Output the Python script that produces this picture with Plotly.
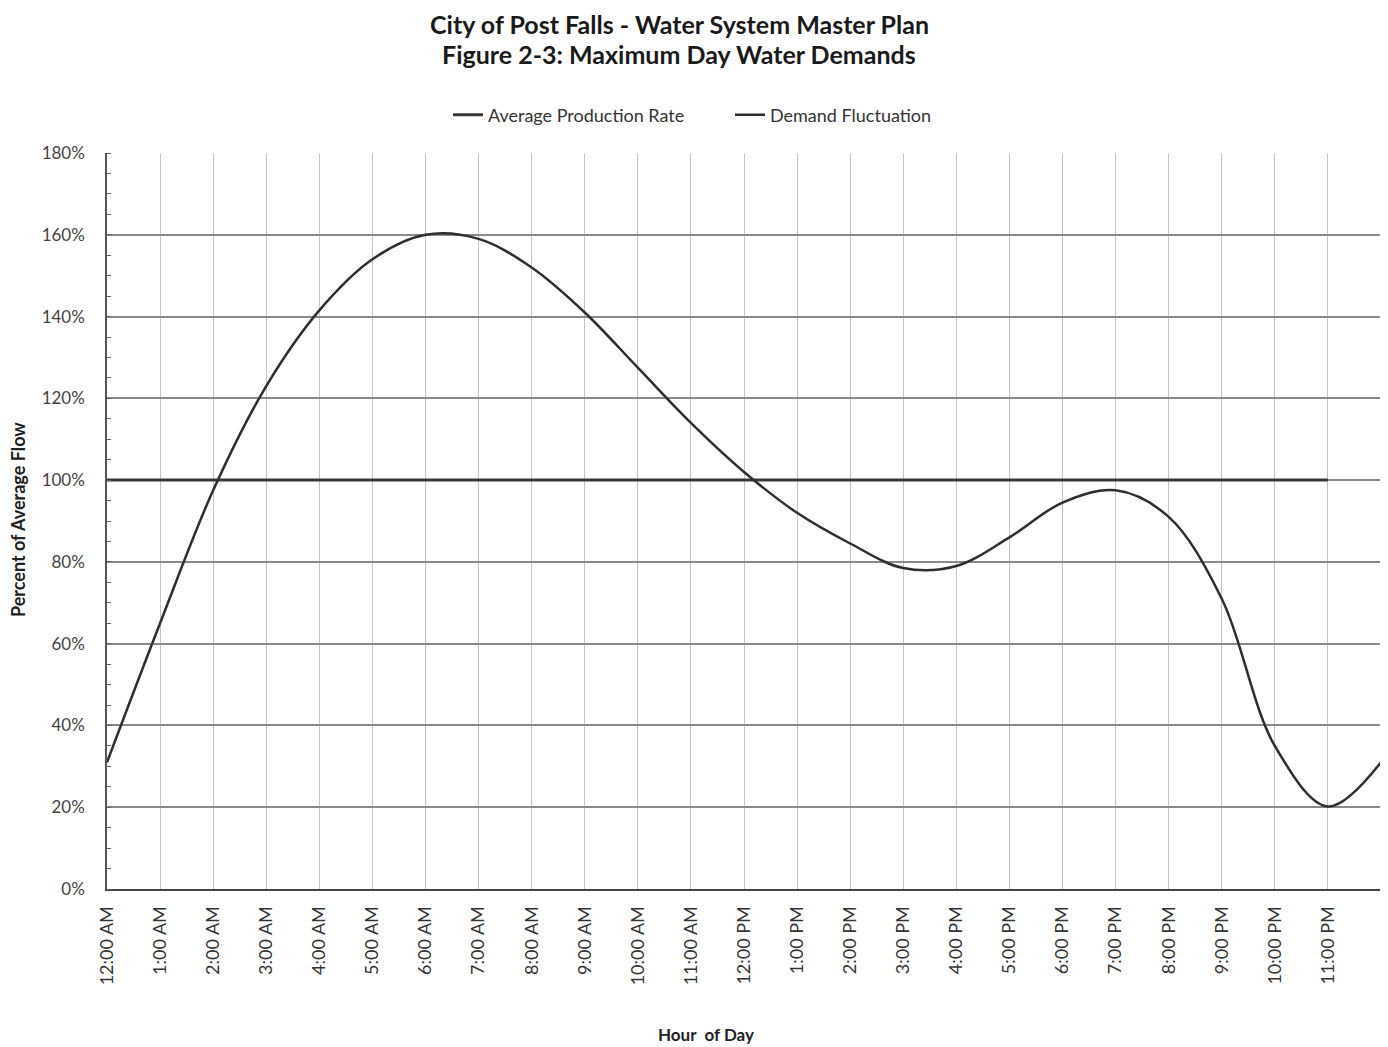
import plotly.graph_objects as go

hours = list(range(25))
tick_labels = ["12:00 AM", "1:00 AM", "2:00 AM", "3:00 AM", "4:00 AM", "5:00 AM",
               "6:00 AM", "7:00 AM", "8:00 AM", "9:00 AM", "10:00 AM", "11:00 AM",
               "12:00 PM", "1:00 PM", "2:00 PM", "3:00 PM", "4:00 PM", "5:00 PM",
               "6:00 PM", "7:00 PM", "8:00 PM", "9:00 PM", "10:00 PM", "11:00 PM"]
demand = [31, 65, 97.5, 123, 141.5, 154, 160, 159, 152, 141, 127.5, 114,
          102, 92, 84.5, 78.5, 79, 86, 94.5, 97.5, 91, 71, 35, 20.2, 31]
avg_hours = list(range(24))
avg_rate = [100] * 24
title_lines = ["City of Post Falls - Water System Master Plan",
               "Figure 2-3: Maximum Day Water Demands"]

FONT = "Lato, Carlito, sans-serif"
OFF = 8  # page body margin
W, H = 1380, 1039
L, R, T, B = 107 - OFF, 7, 153 - OFF, 158
PW, PH = W - L - R, H - T - B


def py(pix):
    return (H - B - (pix - OFF)) / PH


def px(pix):
    return ((pix - OFF) - L) / PW


fig = go.Figure()
fig.add_trace(go.Scatter(x=avg_hours, y=avg_rate, mode="lines", name="Average Production Rate",
                         line=dict(color="#383838", width=3)))
fig.add_trace(go.Scatter(x=hours, y=demand, mode="lines", name="Demand Fluctuation",
                         line=dict(color="#2e2e2e", width=2.5, shape="spline", smoothing=1)))

annotations = [
    dict(text=f"<b>{title_lines[0]}</b>", x=px(679), xref="paper", y=py(24), yref="paper",
         xanchor="center", yanchor="middle", showarrow=False,
         font=dict(size=25, color="#1a1a1a", family=FONT)),
    dict(text=f"<b>{title_lines[1]}</b>", x=px(679), xref="paper", y=py(54), yref="paper",
         xanchor="center", yanchor="middle", showarrow=False,
         font=dict(size=25, color="#1a1a1a", family=FONT)),
    dict(text="<b>Hour  of Day</b>", x=px(706), xref="paper", y=py(1034), yref="paper",
         xanchor="center", yanchor="middle", showarrow=False,
         font=dict(size=17, color="#222", family=FONT)),
    dict(text="<b>Percent of Average Flow</b>", x=px(18), xref="paper", y=py(520), yref="paper",
         xanchor="center", yanchor="middle", showarrow=False, textangle=-90,
         font=dict(size=18, color="#222", family=FONT)),
]

fig.update_layout(
    width=W, height=H,
    paper_bgcolor="white", plot_bgcolor="white",
    margin=dict(l=L, r=R, t=T, b=B, autoexpand=False),
    font=dict(family=FONT, color="#333"),
    legend=dict(orientation="h", x=px(448), xanchor="left", y=py(115), yanchor="middle",
                font=dict(size=18, color="#333"), entrywidth=237, entrywidthmode="pixels",
                bgcolor="rgba(0,0,0,0)"),
    showlegend=True,
    annotations=annotations,
)
fig.update_xaxes(
    range=[0, 24], tickmode="array", tickvals=list(range(24)), ticktext=tick_labels,
    tickangle=-90, tickfont=dict(size=18, color="#333"), automargin=False,
    showgrid=True, gridcolor="#c4c4c4", gridwidth=1,
    showline=True, linecolor="#444", linewidth=2, ticks="", zeroline=False,
    ticklabelstandoff=8,
)
fig.update_yaxes(
    range=[0, 180], tickmode="array", tickvals=list(range(0, 181, 20)),
    ticktext=[f"{v}%" for v in range(0, 181, 20)],
    tickfont=dict(size=17, color="#444"), automargin=False,
    showgrid=True, gridcolor="#8a8a8a", gridwidth=1.5,
    showline=True, linecolor="#555", linewidth=1.5, zeroline=False,
    ticks="", ticklabelstandoff=17,
    minor=dict(tickmode="array", tickvals=list(range(0, 181, 5)), ticks="inside", ticklen=4,
               tickcolor="#666", showgrid=False),
)
fig.write_html("out.html")
